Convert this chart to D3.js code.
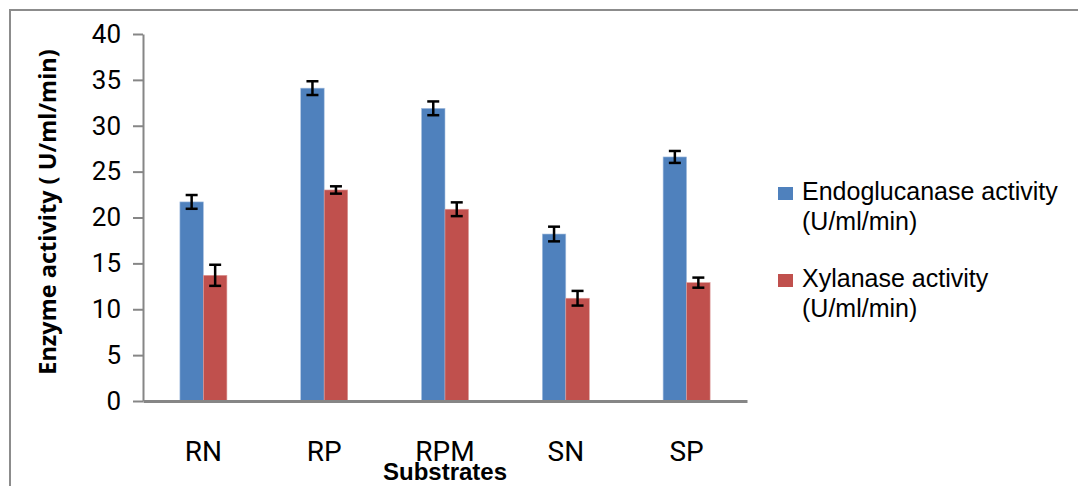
<!DOCTYPE html>
<html>
<head>
<meta charset="utf-8">
<script src="https://cdn.jsdelivr.net/npm/d3@7"></script>
<style>
  body { margin: 0; background: #fff; }
  .tick text { font-family: "Liberation Sans Narrow", "Roboto", sans-serif; }
</style>
</head>
<body>
<div id="chart"></div>
<script>
// substrates and measured activities (U/ml/min)
const substrates = ["RN", "RP", "RPM", "SN", "SP"];
const seriesNames = ["Endoglucanase activity", "Xylanase activity"];
const endoglucanase = [21.7, 34.1, 31.9, 18.2, 26.6];
const endoErr = [0.75, 0.75, 0.75, 0.8, 0.65];
const xylanase = [13.7, 23.0, 20.9, 11.2, 12.9];
const xylErr = [1.15, 0.4, 0.75, 0.8, 0.55];
const yTicks = [0, 5, 10, 15, 20, 25, 30, 35, 40];

const width = 1078, height = 486;
const margin = {top: 34, left: 143, bottom: 85, right: 331};
const colors = ["#4f81bd", "#c0504d"];

let svg = d3.select("#chart").append("svg")
    .attr("width", width)
    .attr("height", height);

// outer frame
svg.append("rect")
    .attr("x", 10).attr("y", 10)
    .attr("width", width + 20).attr("height", height + 20)
    .attr("fill", "none")
    .attr("stroke", "#8c8c8c")
    .attr("stroke-width", 2);

let xScale = d3.scaleBand()
    .domain(substrates)
    .range([margin.left, width - margin.right]);
let yScale = d3.scaleLinear()
    .domain([0, 40])
    .range([height - margin.bottom, margin.top]);

let barW = 23.5;
let data = [];
substrates.forEach((s, i) => {
    data.push({cat: s, k: 0, v: endoglucanase[i], e: endoErr[i]});
    data.push({cat: s, k: 1, v: xylanase[i], e: xylErr[i]});
});
let barX = d => xScale(d.cat) + xScale.bandwidth() / 2 - barW + d.k * barW;

svg.selectAll("rect.bar").data(data).enter().append("rect")
    .attr("class", "bar")
    .attr("x", barX)
    .attr("y", d => yScale(d.v))
    .attr("width", barW)
    .attr("height", d => yScale(0) - yScale(d.v))
    .attr("fill", d => colors[d.k])
    .attr("stroke", d => d.k === 0 ? "#a9c1e0" : "#dc9a98")
    .attr("stroke-width", 0.6);

// error bars
let eb = svg.selectAll("g.err").data(data).enter().append("g")
    .attr("class", "err")
    .attr("stroke", "#000")
    .attr("stroke-width", 2.5);
eb.append("line")
    .attr("x1", d => barX(d) + barW / 2).attr("x2", d => barX(d) + barW / 2)
    .attr("y1", d => yScale(d.v + d.e)).attr("y2", d => yScale(d.v - d.e));
eb.append("line")
    .attr("x1", d => barX(d) + barW / 2 - 6).attr("x2", d => barX(d) + barW / 2 + 6)
    .attr("y1", d => yScale(d.v + d.e)).attr("y2", d => yScale(d.v + d.e));
eb.append("line")
    .attr("x1", d => barX(d) + barW / 2 - 6).attr("x2", d => barX(d) + barW / 2 + 6)
    .attr("y1", d => yScale(d.v - d.e)).attr("y2", d => yScale(d.v - d.e));

// y axis
let yAxis = d3.axisLeft(yScale).tickValues(yTicks).tickSize(10).tickSizeOuter(0).tickPadding(12);
let yAx = svg.append("g")
    .attr("transform", "translate(" + margin.left + ",0)")
    .call(yAxis);
yAx.selectAll("line, path").attr("stroke", "#868686").attr("stroke-width", 2);
yAx.selectAll("text").attr("font-size", 26).attr("fill", "#000");

// x axis
let xAxis = d3.axisBottom(xScale).tickSize(0).tickSizeOuter(0).tickPadding(40);
let xAx = svg.append("g")
    .attr("transform", "translate(0," + yScale(0) + ")")
    .call(xAxis);
xAx.select("path").attr("stroke", "#868686").attr("stroke-width", 3);
xAx.selectAll("text").attr("font-size", 28).attr("fill", "#000");

// axis titles
svg.append("text")
    .attr("transform", "translate(56,212) rotate(-90)")
    .attr("text-anchor", "middle")
    .attr("font-family", "Open Sans, sans-serif")
    .attr("font-weight", "bold")
    .attr("font-size", 23.5)
    .text("Enzyme activity ( U/ml/min)");
svg.append("text")
    .attr("x", 445).attr("y", 480)
    .attr("text-anchor", "middle")
    .attr("font-family", "Liberation Sans Narrow, sans-serif")
    .attr("font-weight", "bold")
    .attr("font-size", 24)
    .text("Substrates");

// legend
let legend = svg.selectAll("g.legend").data(seriesNames).enter().append("g")
    .attr("class", "legend")
    .attr("transform", (d, i) => "translate(778," + (200 + i * 87) + ")");
legend.append("rect")
    .attr("x", 0).attr("y", -13)
    .attr("width", 15).attr("height", 13)
    .attr("fill", (d, i) => colors[i]);
let lt = legend.append("text")
    .attr("x", 24).attr("y", 0)
    .attr("font-family", "Liberation Sans Narrow, sans-serif")
    .attr("font-size", 25);
lt.append("tspan").text(d => d);
lt.append("tspan").attr("x", 24).attr("dy", 30).text("(U/ml/min)");
</script>
</body>
</html>
